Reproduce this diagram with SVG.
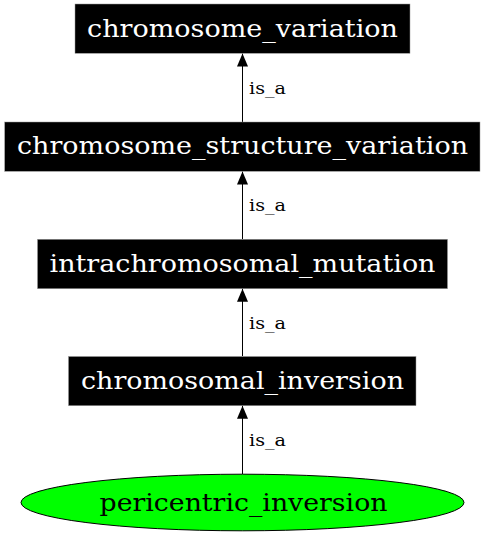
<svg xmlns="http://www.w3.org/2000/svg" width="485" height="536" viewBox="0 0 485 536">
<style>
.box{fill:#000;stroke:#999;stroke-width:0.5}
.nt{font-family:"DejaVu Serif","Liberation Serif",serif;font-size:25px;text-anchor:middle;fill:#fff}
.et{font-family:"DejaVu Serif","Liberation Serif",serif;font-size:16px;fill:#000}
.edge{stroke:#000;stroke-width:1;fill:none}
</style>
<defs>
<marker id="ah" markerWidth="14" markerHeight="12" refX="13" refY="5.5" orient="auto" markerUnits="userSpaceOnUse">
<path d="M0,0 L13,5.5 L0,11 Z" fill="#000"/>
</marker>
</defs>
<g id="edges">
<line class="edge" x1="242.5" y1="122" x2="242.5" y2="53.5" marker-end="url(#ah)"/>
<text class="et" x="249" y="94" textLength="37" lengthAdjust="spacingAndGlyphs">is_a</text>
<line class="edge" x1="242.5" y1="239" x2="242.5" y2="171.5" marker-end="url(#ah)"/>
<text class="et" x="249" y="211" textLength="37" lengthAdjust="spacingAndGlyphs">is_a</text>
<line class="edge" x1="242.5" y1="356" x2="242.5" y2="288.7" marker-end="url(#ah)"/>
<text class="et" x="249" y="328.5" textLength="37" lengthAdjust="spacingAndGlyphs">is_a</text>
<line class="edge" x1="242.5" y1="474" x2="242.5" y2="405.7" marker-end="url(#ah)"/>
<text class="et" x="249" y="445.5" textLength="37" lengthAdjust="spacingAndGlyphs">is_a</text>
</g>
<g id="chromosome_variation">
<rect class="box" x="75" y="4" width="335" height="49.3"/>
<text class="nt" x="242.5" y="36.5" textLength="311" lengthAdjust="spacingAndGlyphs">chromosome_variation</text>
</g>
<g id="chromosome_structure_variation">
<rect class="box" x="4.7" y="122" width="475.3" height="49.3"/>
<text class="nt" x="242.5" y="154" textLength="451" lengthAdjust="spacingAndGlyphs">chromosome_structure_variation</text>
</g>
<g id="intrachromosomal_mutation">
<rect class="box" x="37.5" y="239.3" width="410" height="49.4"/>
<text class="nt" x="242.5" y="271.7" textLength="386" lengthAdjust="spacingAndGlyphs">intrachromosomal_mutation</text>
</g>
<g id="chromosomal_inversion">
<rect class="box" x="68.5" y="356.5" width="347.5" height="49.2"/>
<text class="nt" x="242.5" y="388.5" textLength="323" lengthAdjust="spacingAndGlyphs">chromosomal_inversion</text>
</g>
<g id="pericentric_inversion">
<ellipse cx="242.5" cy="502.5" rx="221.5" ry="28.3" fill="#00ff00" stroke="#000" stroke-width="1"/>
<text class="nt" x="243.5" y="510.5" textLength="288" lengthAdjust="spacingAndGlyphs" style="fill:#000">pericentric_inversion</text>
</g>
</svg>
